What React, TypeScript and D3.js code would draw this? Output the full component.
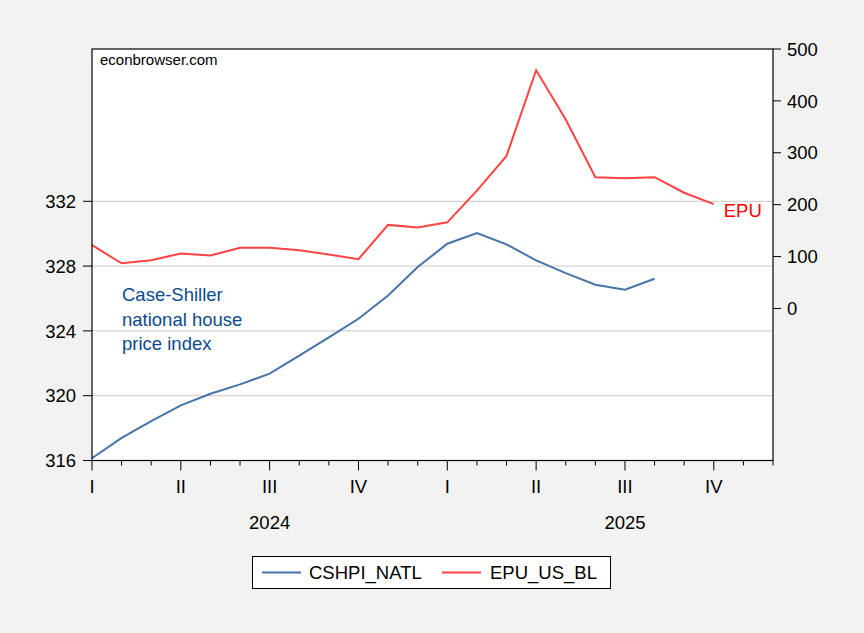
import React from "react";
import * as d3 from "d3";

const months: string[] = [
  "2024-01","2024-02","2024-03","2024-04","2024-05","2024-06","2024-07","2024-08","2024-09","2024-10","2024-11","2024-12",
  "2025-01","2025-02","2025-03","2025-04","2025-05","2025-06","2025-07","2025-08","2025-09","2025-10","2025-11","2025-12",
];
const cshpi: number[] = [
  316.14, 317.4, 318.43, 319.4, 320.12, 320.7, 321.36, 322.47, 323.6, 324.75, 326.19, 327.94,
  329.38, 330.04, 329.34, 328.35, 327.57, 326.85, 326.54, 327.22,
];
const epu: number[] = [
  122, 87, 93, 106, 102, 117, 117, 112, 104, 95, 161, 156,
  166, 227, 294, 459, 364, 253, 251, 253, 223, 201,
];
const leftTicks: number[] = [316, 320, 324, 328, 332];
const rightTicks: number[] = [0, 100, 200, 300, 400, 500];
const quarterLabels: string[] = ["I", "II", "III", "IV"];
const years: string[] = ["2024", "2025"];
const seriesNames: string[] = ["CSHPI_NATL", "EPU_US_BL"];

const W = 864, H = 633;
const L = 92, R = 773, T = 49, B = 460.5;
const FONT = "'Liberation Sans', Arial, sans-serif";
const BLUE = "#4674aa";
const RED = "#ff4343";

export default function App() {
  const x = d3.scalePoint<string>().domain(months).range([L, R]);
  const yL = d3.scaleLinear().domain([316, 341.4]).range([B, T]);
  const yR = d3.scaleLinear().domain([-293, 500]).range([B, T]);

  const lineL = d3.line<number>().x((_, i) => x(months[i])!).y((d) => yL(d));
  const lineR = d3.line<number>().x((_, i) => x(months[i])!).y((d) => yR(d));

  const lastEpuX = x(months[epu.length - 1])!;
  const lastEpuY = yR(epu[epu.length - 1]);

  return (
    <svg width={W} height={H} style={{ position: "absolute", left: 0, top: 0 }} fontFamily={FONT}>
      <rect x={0} y={0} width={W} height={H} fill="#f2f2f2" />
      <rect x={L} y={T} width={R - L} height={B - T} fill="#ffffff" />
      {leftTicks.filter((t) => t !== 316).map((t) => (
        <line key={"g" + t} x1={L} x2={R} y1={yL(t)} y2={yL(t)} stroke="#c8c8c8" strokeWidth={1} />
      ))}
      <path d={lineL(cshpi)!} fill="none" stroke={BLUE} strokeWidth={2} />
      <path d={lineR(epu)!} fill="none" stroke={RED} strokeWidth={2} />
      <rect x={L} y={T} width={R - L} height={B - T} fill="none" stroke="#000" strokeWidth={1.2} />

      {/* left axis */}
      {leftTicks.map((t) => (
        <g key={"l" + t}>
          <line x1={L - 9} x2={L} y1={yL(t)} y2={yL(t)} stroke="#000" />
          <text x={L - 16} y={yL(t)} dy="0.36em" textAnchor="end" fontSize={18.5} fill="#000">{t}</text>
        </g>
      ))}
      {/* right axis */}
      {rightTicks.map((t) => (
        <g key={"r" + t}>
          <line x1={R} x2={R + 8} y1={yR(t)} y2={yR(t)} stroke="#000" />
          <text x={R + 14} y={yR(t)} dy="0.36em" textAnchor="start" fontSize={18.5} fill="#000">{t}</text>
        </g>
      ))}
      {/* x axis ticks */}
      {months.map((m, i) => (
        <line key={"x" + m} x1={x(m)!} x2={x(m)!} y1={B} y2={B + (i % 3 === 0 ? 10 : 5)} stroke="#000" />
      ))}
      {months.map((m, i) =>
        i % 3 === 0 ? (
          <text key={"q" + m} x={x(m)!} y={493} textAnchor="middle" fontSize={18.5} fill="#000">
            {quarterLabels[(i / 3) % 4]}
          </text>
        ) : null
      )}
      {years.map((yr, k) => (
        <text key={yr} x={(x(months[k * 12 + 6])! )} y={529} textAnchor="middle" fontSize={18.5} fill="#000">{yr}</text>
      ))}

      <text x={100} y={65} fontSize={15} fill="#000">econbrowser.com</text>
      <text x={122} fontSize={18.5} fill="#0d4a8c">
        <tspan x={122} y={301}>Case-Shiller</tspan>
        <tspan x={122} y={325.5}>national house</tspan>
        <tspan x={122} y={350}>price index</tspan>
      </text>
      <text x={lastEpuX + 10} y={lastEpuY + 13} fontSize={18.5} fill="#ff0000">EPU</text>

      {/* legend */}
      <rect x={252.5} y={556.5} width={358} height={32} fill="#ffffff" stroke="#000" strokeWidth={1} />
      <line x1={262} x2={301} y1={572.5} y2={572.5} stroke={BLUE} strokeWidth={2} />
      <text x={309} y={572.5} dy="0.36em" fontSize={18.5} fill="#000">{seriesNames[0]}</text>
      <line x1={442} x2={481} y1={572.5} y2={572.5} stroke={RED} strokeWidth={2} />
      <text x={490} y={572.5} dy="0.36em" fontSize={18.5} fill="#000">{seriesNames[1]}</text>
    </svg>
  );
}
